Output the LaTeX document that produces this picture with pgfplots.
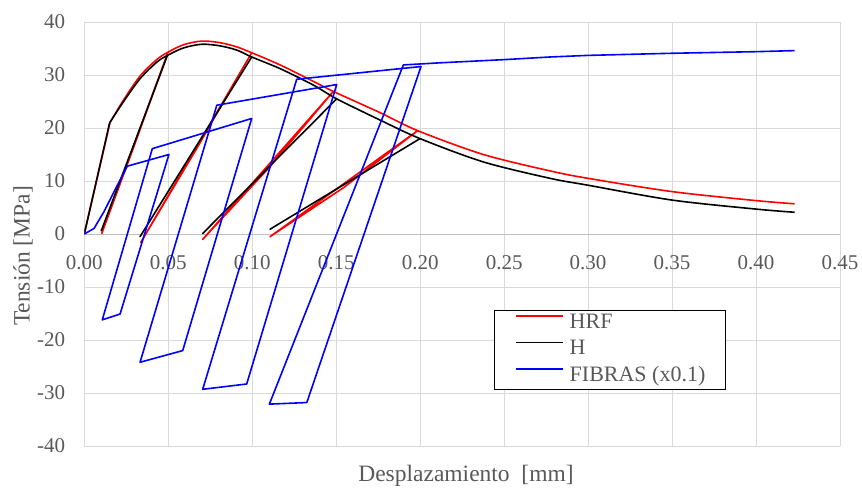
\documentclass[border=0pt]{standalone}
\usepackage{fontspec}
\setmainfont{Liberation Serif}
\usepackage{pgfplots}
\pgfplotsset{compat=1.18}
\definecolor{tg}{HTML}{595959}
\definecolor{gridc}{HTML}{D9D9D9}
\definecolor{axc}{HTML}{BFBFBF}
\begin{document}
\begin{tikzpicture}
\useasboundingbox (-84.3pt,-50pt) rectangle (777.7pt,446pt);
\begin{axis}[
  at={(0pt,0pt)}, anchor=south west,
  scale only axis, width=755.7pt, height=424pt,
  xmin=0, xmax=0.45, ymin=-40, ymax=40,
  axis x line=middle, axis y line=left,
  axis line style={-},
  x axis line style={draw=axc, line width=1pt},
  y axis line style={draw=gridc, line width=1pt},
  hide obscured x ticks=false, hide obscured y ticks=false,
  xtick={0,0.05,0.10,0.15,0.20,0.25,0.30,0.35,0.40,0.45},
  xticklabels={0.00,0.05,0.10,0.15,0.20,0.25,0.30,0.35,0.40,0.45},
  ytick={-40,-30,-20,-10,0,10,20,30,40},
  yticklabels={-40,-30,-20,-10,0,10,20,30,40},
  major tick length=0pt,
  tick style={draw=none},
  xticklabel style={anchor=north, inner sep=0pt, yshift=-21pt, text=tg, font=\fontsize{21}{24}\selectfont},
  yticklabel style={anchor=east, inner sep=0pt, xshift=-19pt, text=tg, font=\fontsize{21}{24}\selectfont},
  grid=major,
  major grid style={draw=gridc, line width=0.9pt},
  legend cell align=left,
  legend style={at={(axis description cs:0.542,0.321)}, anchor=north west,
    draw=none, fill=white,
    font=\fontsize{22}{25}\selectfont, text=tg,
    inner xsep=21pt, inner ysep=3pt, row sep=6.5pt,
    nodes={inner sep=0pt, text height=15pt, text depth=5pt}},
  every axis plot/.append style={line width=1.6pt, line join=round, no marks},
]
% ---- HRF ----
\addplot[red, smooth, forget plot] coordinates {
(0.0153,21.0) (0.0232,25.2) (0.0332,29.8) (0.0431,32.9) (0.0498,34.3)
(0.059,35.7) (0.0699,36.4) (0.0808,36.1) (0.0908,35.3) (0.0997,34.2)
(0.1166,31.9) (0.1364,28.8) (0.1483,26.9)
(0.1761,22.9) (0.1985,19.5)
(0.2376,15.0) (0.2774,11.9) (0.30,10.5) (0.35,8.0) (0.40,6.3) (0.423,5.7)
};
\addplot[red, forget plot] coordinates {(0,0) (0.0153,21.0)};
\addplot[red, forget plot] coordinates {(0.0498,34.3) (0.0300,16.9) (0.0104,0.1) (0.0498,34.3)};
\addplot[red, forget plot] coordinates {(0.0997,34.2) (0.0667,16.0) (0.0336,-1.6) (0.0997,34.2)};
\addplot[red, forget plot] coordinates {(0.1483,26.9) (0.1094,12.3) (0.0705,-1.0) (0.1483,26.9)};
\addplot[red, forget plot] coordinates {(0.1985,19.5) (0.1546,8.8) (0.1106,-0.5) (0.1985,19.5)};
% ---- H ----
\addplot[black, smooth, forget plot] coordinates {
(0.0151,21.0) (0.0232,24.9) (0.0332,29.3) (0.0431,32.4) (0.0495,33.7)
(0.059,35.1) (0.0699,35.8) (0.0808,35.5) (0.0908,34.7) (0.0997,33.4)
(0.1166,31.2) (0.1364,28.1) (0.1503,25.5)
(0.1761,21.5) (0.1999,18.0)
(0.2376,13.6) (0.2774,10.5) (0.30,9.2) (0.35,6.4) (0.40,4.7) (0.423,4.1)
};
\addplot[black, forget plot] coordinates {(0,0) (0.0151,21.0)};
\addplot[black, forget plot] coordinates {(0.0495,33.7) (0.0101,0.6) (0.0495,33.7)};
\addplot[black, forget plot] coordinates {(0.0997,33.4) (0.0332,-0.5) (0.0997,33.4)};
\addplot[black, forget plot] coordinates {(0.1503,25.5) (0.0705,0.1) (0.1503,25.5)};
\addplot[black, forget plot] coordinates {(0.1999,18.0) (0.1106,0.9) (0.1999,18.0)};
% ---- FIBRAS ----
\addplot[blue, forget plot] coordinates {
(0,0) (0.0058,1.05) (0.0117,4.2) (0.0197,9.2) (0.0256,12.8)
(0.0504,15.0) (0.0213,-15.1) (0.0107,-16.2) (0.0405,16.1)
(0.0997,21.8) (0.0586,-22.0) (0.0332,-24.2) (0.0789,24.3)
(0.1503,28.2) (0.0967,-28.3) (0.0705,-29.3) (0.1265,29.2)
(0.2005,31.6) (0.1325,-31.8) (0.1102,-32.1) (0.19,31.9)
(0.2119,32.3) (0.25,32.9) (0.2774,33.4) (0.30,33.7) (0.35,34.1) (0.40,34.4) (0.423,34.6)
};
\addlegendimage{legend image code/.code={\draw[red, line width=1.6pt] (0pt,7pt) -- (47pt,7pt); \path (0pt,0pt) (53pt,0pt);}}
\addlegendentry{HRF}
\addlegendimage{legend image code/.code={\draw[black, line width=1.6pt] (0pt,7pt) -- (47pt,7pt); \path (0pt,0pt) (53pt,0pt);}}
\addlegendentry{H}
\addlegendimage{legend image code/.code={\draw[blue, line width=1.6pt] (0pt,7pt) -- (47pt,7pt); \path (0pt,0pt) (53pt,0pt);}}
\addlegendentry{FIBRAS (x0.1)}
\end{axis}
\draw[black, line width=1pt] (409.7pt,57pt) rectangle (640.7pt,136pt);
\node[rotate=90, font=\fontsize{23.5}{26}\selectfont, text=tg] at (-61.3pt,190pt) {Tensión [MPa]};
\node[font=\fontsize{23.5}{26}\selectfont, text=tg] at (381.7pt,-30pt) {Desplazamiento\ \ [mm]};
\end{tikzpicture}
\end{document}
